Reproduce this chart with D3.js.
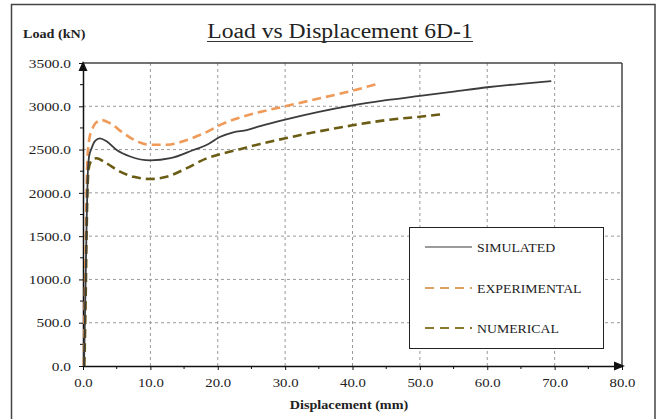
<!DOCTYPE html>
<html>
<head>
<meta charset="utf-8">
<script src="https://cdn.jsdelivr.net/npm/d3@7"></script>
<style>
  html, body { margin: 0; padding: 0; background: #fff; }
  svg { display: block; }
  text { font-family: "Liberation Serif", "Times New Roman", serif; fill: #222; }
</style>
</head>
<body>
<svg id="chart" width="657" height="419"></svg>
<script>
// ---------- data ----------
const titleText = "Load vs Displacement 6D-1";
const yAxisTitle = "Load (kN)";
const xAxisTitle = "Displacement (mm)";
const xTicks = [0, 10, 20, 30, 40, 50, 60, 70, 80];
const yTicks = [0, 500, 1000, 1500, 2000, 2500, 3000, 3500];
const seriesNames = ["SIMULATED", "EXPERIMENTAL", "NUMERICAL"];

const simX = [0.15, 0.35, 0.55, 0.7, 0.9, 1.3, 1.8, 2.5, 3.5, 5.0, 7.0, 10.0, 13.0, 16.4, 18.4, 20.3, 22.3, 24.3, 26.3, 30, 35, 40, 45, 50, 55, 60, 65, 69.5];
const simY = [0, 800, 1700, 2200, 2420, 2520, 2600, 2630, 2595, 2495, 2420, 2375, 2400, 2495, 2555, 2645, 2700, 2725, 2770, 2845, 2935, 3010, 3070, 3120, 3170, 3220, 3260, 3290];

const expX = [0.1, 0.3, 0.5, 0.7, 1.0, 1.3, 1.8, 2.8, 4.0, 6.0, 8.0, 10.0, 12.4, 15.4, 18.4, 20.8, 23.3, 26.3, 30, 35, 40, 43.5];
const expY = [0, 900, 1900, 2450, 2650, 2720, 2800, 2840, 2805, 2690, 2595, 2555, 2555, 2610, 2705, 2800, 2870, 2935, 3000, 3090, 3180, 3255];

const numX = [0.2, 0.4, 0.55, 0.7, 0.85, 1.3, 2.0, 3.5, 5.5, 7.5, 10.0, 12.4, 15.4, 18.4, 20.8, 23.3, 26.3, 30, 35, 40, 45, 50, 53.5];
const numY = [0, 800, 1600, 2100, 2280, 2380, 2400, 2340, 2245, 2185, 2160, 2185, 2285, 2400, 2455, 2505, 2565, 2630, 2710, 2780, 2840, 2880, 2910];

// ---------- layout ----------
const svg = d3.select("#chart");
const L = 83, R = 622, T = 63, B = 366;
const x = d3.scaleLinear().domain([0, 80]).range([L, R]);
const y = d3.scaleLinear().domain([0, 3500]).range([B, T]);

const STRETCH = 1.18;
function stretch(sel, f) {
  sel.each(function () {
    const w = this.getComputedTextLength();
    d3.select(this).attr("textLength", w * f).attr("lengthAdjust", "spacingAndGlyphs");
  });
}

svg.append("rect").attr("width", 657).attr("height", 419).attr("fill", "#fff");
// outer frame
svg.append("rect").attr("x", 11.5).attr("y", 4.5).attr("width", 643.5).attr("height", 420)
  .attr("fill", "none").attr("stroke", "#444").attr("stroke-width", 1.5);

// grid
const g = svg.append("g");
g.selectAll(".gx").data(xTicks.filter(d => d > 0 && d < 80)).enter().append("line")
  .attr("x1", d => x(d)).attr("x2", d => x(d)).attr("y1", T).attr("y2", B)
  .attr("stroke", "#9a9a9a").attr("stroke-width", 1).attr("stroke-dasharray", "3,3");
g.selectAll(".gy").data(yTicks.filter(d => d > 0 && d < 3500)).enter().append("line")
  .attr("x1", L).attr("x2", R).attr("y1", d => y(d)).attr("y2", d => y(d))
  .attr("stroke", "#9a9a9a").attr("stroke-width", 1).attr("stroke-dasharray", "3,3");

// plot border top/right
svg.append("line").attr("x1", L).attr("x2", R).attr("y1", T).attr("y2", T).attr("stroke", "#444").attr("stroke-width", 1.5);
svg.append("line").attr("x1", R).attr("x2", R).attr("y1", T).attr("y2", B).attr("stroke", "#444").attr("stroke-width", 1.5);

// axes via d3 axis
const xAxis = d3.axisBottom(x).tickValues(xTicks).tickFormat(d => d.toFixed(1)).tickSize(4).tickSizeOuter(0);
const xg = svg.append("g").attr("transform", `translate(0,${B})`).call(xAxis);
xg.select(".domain").attr("stroke", "#111").attr("stroke-width", 1.5);
xg.selectAll(".tick line").attr("stroke", "#111");
xg.selectAll(".tick text").attr("font-family", "Liberation Serif, serif").attr("font-size", 12.5)
  .attr("fill", "#222").attr("dy", null).attr("y", 21);
const yAxis = d3.axisLeft(y).tickValues(yTicks).tickFormat(d => d.toFixed(1)).tickSize(4).tickSizeOuter(0);
const yg = svg.append("g").attr("transform", `translate(${L},0)`).call(yAxis);
yg.select(".domain").attr("stroke", "#111").attr("stroke-width", 1.5);
yg.selectAll(".tick line").attr("stroke", "#111");
yg.selectAll(".tick text").attr("font-family", "Liberation Serif, serif").attr("font-size", 13)
  .attr("fill", "#222").attr("x", -12);
svg.selectAll(".tick text").call(stretch, STRETCH);

// minor ticks
svg.selectAll(".mx").data(d3.range(5, 80, 10)).enter().append("line")
  .attr("x1", d => x(d)).attr("x2", d => x(d)).attr("y1", B).attr("y2", B + 3).attr("stroke", "#111");
svg.selectAll(".my").data(d3.range(250, 3500, 500)).enter().append("line")
  .attr("x1", L - 3).attr("x2", L).attr("y1", d => y(d)).attr("y2", d => y(d)).attr("stroke", "#111");

// arrows
svg.append("path").attr("d", `M${L},${T - 2} L${L - 4.5},${T + 8} L${L + 4.5},${T + 8} Z`).attr("fill", "#111");
svg.append("path").attr("d", `M${R + 3},${B} L${R - 8},${B - 4.5} L${R - 8},${B + 4.5} Z`).attr("fill", "#111");

// series
const line = d3.line().x(d => x(d[0])).y(d => y(d[1])).curve(d3.curveMonotoneX);
const zip = (a, b) => a.map((v, i) => [v, b[i]]);
const series = [
  { name: seriesNames[1], pts: zip(expX, expY), color: "#ef9a58", w: 2.6, dash: "9,5" },
  { name: seriesNames[2], pts: zip(numX, numY), color: "#6b5c14", w: 2.6, dash: "9,5" },
  { name: seriesNames[0], pts: zip(simX, simY), color: "#3c3c3c", w: 1.8, dash: null }
];
series.forEach(s => {
  svg.append("path").attr("d", line(s.pts)).attr("fill", "none")
    .attr("stroke", s.color).attr("stroke-width", s.w)
    .attr("stroke-dasharray", s.dash).attr("stroke-linejoin", "round");
});

// titles
svg.append("text").attr("x", 340).attr("y", 38).attr("text-anchor", "middle")
  .attr("font-size", 20).text(titleText).call(stretch, STRETCH);
svg.append("line").attr("x1", 207).attr("x2", 473).attr("y1", 41.5).attr("y2", 41.5)
  .attr("stroke", "#333").attr("stroke-width", 1);
svg.append("text").attr("x", 23).attr("y", 38).attr("font-size", 12).attr("font-weight", "bold")
  .text(yAxisTitle).call(stretch, STRETCH);
svg.append("text").attr("x", 349).attr("y", 409).attr("text-anchor", "middle")
  .attr("font-size", 12).attr("font-weight", "bold").text(xAxisTitle).call(stretch, STRETCH);

// legend
const lg = svg.append("g");
lg.append("rect").attr("x", 409.5).attr("y", 227.5).attr("width", 194).attr("height", 121)
  .attr("fill", "#fff").attr("stroke", "#222").attr("stroke-width", 1);
const legendItems = [
  { name: seriesNames[0], color: "#7a7a7a", w: 1.6, dash: null, cy: 247 },
  { name: seriesNames[1], color: "#d9a25e", w: 2, dash: "9,6", cy: 288 },
  { name: seriesNames[2], color: "#8a7a2c", w: 2, dash: "9,6", cy: 328 }
];
legendItems.forEach(it => {
  lg.append("line").attr("x1", 425).attr("x2", 472).attr("y1", it.cy).attr("y2", it.cy)
    .attr("stroke", it.color).attr("stroke-width", it.w).attr("stroke-dasharray", it.dash);
  lg.append("text").attr("x", 477).attr("y", it.cy + 4.5).attr("font-size", 13)
    .text(it.name).call(stretch, 1.06);
});
</script>
</body>
</html>
